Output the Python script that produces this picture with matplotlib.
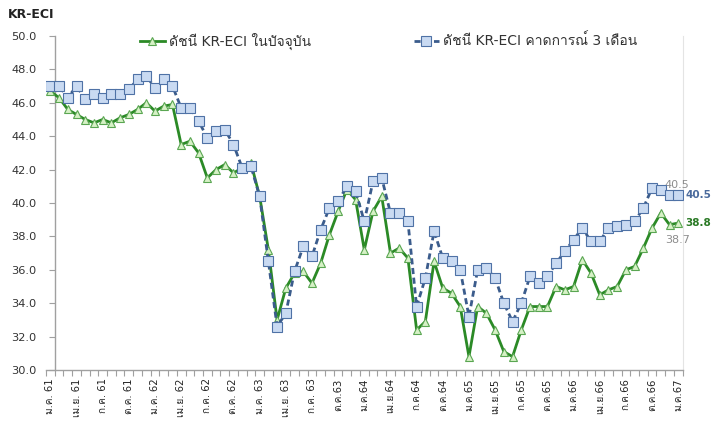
import matplotlib
matplotlib.use("Agg")
import matplotlib.pyplot as plt
from matplotlib import font_manager
from matplotlib.ticker import FixedLocator, FormatStrFormatter

# ---------------- data ----------------
tick_labels = ["ม.ค. 61", "เม.ย. 61", "ก.ค. 61", "ต.ค. 61", "ม.ค. 62", "เม.ย. 62",
               "ก.ค. 62", "ต.ค. 62", "ม.ค. 63", "เม.ย. 63", "ก.ค. 63", "ต.ค.63",
               "ม.ค.64", "เม.ย.64", "ก.ค.64", "ต.ค.64", "ม.ค.65", "เม.ย.65",
               "ก.ค.65", "ต.ค.65", "ม.ค.66", "เม.ย.66", "ก.ค.66", "ต.ค.66", "ม.ค.67"]

current_idx = [46.7, 46.3, 45.6, 45.3, 45.0, 44.8, 45.0, 44.8, 45.1, 45.3, 45.6, 46.0,
               45.5, 45.8, 45.9, 43.5, 43.7, 43.0, 41.5, 42.0, 42.3, 41.8, 42.1, 42.4,
               40.4, 37.2, 33.0, 34.9, 35.8, 35.9, 35.2, 36.4, 38.1, 39.5, 40.8, 40.2,
               37.2, 39.5, 40.4, 37.0, 37.3, 36.7, 32.4, 32.9, 36.5, 34.9, 34.6, 33.8,
               30.8, 33.8, 33.4, 32.4, 31.1, 30.8, 32.4, 33.8, 33.8, 33.8, 35.0, 34.8,
               35.0, 36.6, 35.8, 34.5, 34.8, 35.0, 36.0, 36.2, 37.3, 38.5, 39.4, 38.7,
               38.8]

expect_idx = [47.0, 47.0, 46.3, 47.0, 46.2, 46.5, 46.3, 46.5, 46.5, 46.8, 47.4, 47.6,
              46.9, 47.4, 47.0, 45.7, 45.7, 44.9, 43.9, 44.3, 44.4, 43.5, 42.1, 42.2,
              40.4, 36.5, 32.6, 33.4, 35.9, 37.4, 36.8, 38.4, 39.7, 40.1, 41.0, 40.7,
              38.9, 41.3, 41.5, 39.4, 39.4, 38.9, 33.8, 35.5, 38.3, 36.7, 36.5, 36.0,
              33.2, 36.0, 36.1, 35.5, 34.0, 32.9, 34.0, 35.6, 35.2, 35.6, 36.4, 37.1,
              37.8, 38.5, 37.7, 37.7, 38.5, 38.6, 38.7, 38.9, 39.7, 40.9, 40.8, 40.5,
              40.5]

series_names = ["ดัชนี KR-ECI ในปัจจุบัน", "ดัชนี KR-ECI คาดการณ์ 3 เดือน"]
y_title = "KR-ECI"


# ---------------- fonts ----------------
def find_thai_font():
    try:
        from fontTools.ttLib import TTFont
    except Exception:
        return None
    for f in font_manager.fontManager.ttflist:
        try:
            tt = TTFont(f.fname, fontNumber=0, lazy=True)
            cmap = tt.getBestCmap()
            if cmap and 0x0E14 in cmap and 0x0E31 in cmap:
                return f.name
        except Exception:
            continue
    return None

thai = find_thai_font()
fams = ["DejaVu Sans"] + ([thai] if thai else [])
plt.rcParams["font.family"] = fams

# ---------------- figure ----------------
fig = plt.figure(figsize=(7.12, 4.32), dpi=100)
ax = fig.add_axes([46 / 712, 1 - 370 / 432, (682.6 - 46) / 712, (370 - 36) / 432])

x = list(range(len(current_idx)))

green = "#2b8a26"
blue = "#3b5c8c"

l1, = ax.plot(x, current_idx, color=green, lw=2.0, marker="^", markersize=6,
              markerfacecolor="#d6f1c6", markeredgecolor="#5aa652", markeredgewidth=0.8,
              zorder=3, label=series_names[0])
l2, = ax.plot(x, expect_idx, color=blue, lw=2.0, ls=(0, (2.2, 1.3)), marker="s", markersize=6.5,
              markerfacecolor="#c9daf2", markeredgecolor="#4f72a6", markeredgewidth=0.8,
              zorder=4, label=series_names[1])

ax.set_xlim(-0.5, len(x) - 0.5)
ax.set_ylim(30, 50)
ax.set_yticks([30 + 2 * k for k in range(11)])
ax.yaxis.set_major_formatter(FormatStrFormatter("%.1f"))

ax.set_xticks(list(range(0, len(x), 3)))
ax.set_xticklabels(tick_labels, rotation=90, fontsize=7.2, color="#222222")
ax.xaxis.set_minor_locator(FixedLocator([k - 0.5 for k in range(len(x) + 1)]))
ax.tick_params(axis="x", which="major", length=0, pad=6)
ax.tick_params(axis="x", which="minor", length=4, color="#a0a0a0", width=0.8)
ax.tick_params(axis="y", length=4, color="#a0a0a0", width=0.8, pad=9, labelsize=8.2,
               labelcolor="#333333")
for t in ax.get_yticklabels():
    t.set_fontweight("bold")

ax.spines["top"].set_visible(False)
ax.spines["right"].set_color("#e4e4e4")
ax.spines["right"].set_linewidth(0.8)
ax.spines["left"].set_position(("data", 0.5))
ax.spines["left"].set_color("#a0a0a0")
ax.spines["left"].set_linewidth(1.0)
ax.spines["bottom"].set_color("#a0a0a0")
ax.spines["bottom"].set_linewidth(1.0)

fig.text(8 / 712, 1 - 15 / 432, y_title, fontsize=9, fontweight="bold", color="#222222",
         va="center", ha="left")

leg = ax.legend(handles=[l1, l2], loc="center left", bbox_to_anchor=(127 / 712, 1 - 41 / 432),
                bbox_transform=fig.transFigure, ncol=2, frameon=False, fontsize=10,
                handlelength=1.8, handletextpad=0.3, columnspacing=7.4, numpoints=1)
for t in leg.get_texts():
    t.set_color("#333333")

# value labels at the end
n = len(x)
ax.annotate(f"{expect_idx[-2]:.1f}", xy=(n - 2, expect_idx[-2]), xytext=(-4, 7),
            textcoords="offset points", fontsize=8, color="#8c8c8c", ha="left", va="center",
            annotation_clip=False)
ax.annotate(f"{expect_idx[-1]:.1f}", xy=(n - 1, expect_idx[-1]), xytext=(5, 0),
            textcoords="offset points", fontsize=7.5, fontweight="bold", color="#4a6a9c",
            ha="left", va="center", annotation_clip=False)
ax.annotate(f"{current_idx[-2]:.1f}", xy=(n - 2, current_idx[-2]), xytext=(-3, -11),
            textcoords="offset points", fontsize=8, color="#8c8c8c", ha="left", va="center",
            annotation_clip=False)
ax.annotate(f"{current_idx[-1]:.1f}", xy=(n - 1, current_idx[-1]), xytext=(5, 0),
            textcoords="offset points", fontsize=7.5, fontweight="bold", color="#2b7a26",
            ha="left", va="center", annotation_clip=False)

fig.savefig("out.png", dpi=100)
